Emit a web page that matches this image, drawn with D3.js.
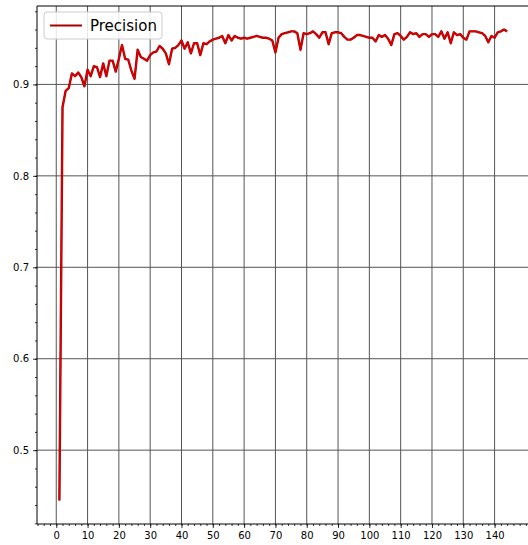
<!DOCTYPE html>
<html>
<head>
<meta charset="utf-8">
<script src="https://cdn.jsdelivr.net/npm/d3@7"></script>
<style>
  body { margin: 0; background: #fff; }
  svg { display: block; font-family: "DejaVu Sans", sans-serif; }
</style>
</head>
<body>
<svg id="chart" width="528" height="545"></svg>
<script>
// epoch numbers and precision values
var epochs = d3.range(1, 145);
var precision = [
  0.445, 0.875, 0.893, 0.896, 0.912, 0.909, 0.913, 0.908, 0.898, 0.916,
  0.909, 0.920, 0.919, 0.908, 0.923, 0.909, 0.926, 0.926, 0.914, 0.928,
  0.943, 0.928, 0.927, 0.915, 0.906, 0.938, 0.930, 0.928, 0.926, 0.932,
  0.935, 0.936, 0.942, 0.939, 0.934, 0.922, 0.939, 0.940, 0.943, 0.948,
  0.939, 0.946, 0.934, 0.945, 0.945, 0.932, 0.945, 0.944, 0.947, 0.949,
  0.950, 0.951, 0.953, 0.945, 0.954, 0.948, 0.953, 0.951, 0.950, 0.951,
  0.950, 0.951, 0.952, 0.953, 0.952, 0.951, 0.951, 0.950, 0.948, 0.935,
  0.951, 0.955, 0.956, 0.957, 0.958, 0.958, 0.956, 0.938, 0.956, 0.955,
  0.956, 0.958, 0.955, 0.951, 0.957, 0.957, 0.944, 0.956, 0.957, 0.957,
  0.956, 0.952, 0.949, 0.949, 0.951, 0.954, 0.954, 0.953, 0.952, 0.951,
  0.951, 0.947, 0.954, 0.952, 0.954, 0.950, 0.943, 0.955, 0.956, 0.953,
  0.949, 0.952, 0.957, 0.955, 0.956, 0.952, 0.955, 0.955, 0.952, 0.955,
  0.955, 0.952, 0.958, 0.950, 0.957, 0.945, 0.957, 0.954, 0.955, 0.951,
  0.949, 0.958, 0.958, 0.958, 0.957, 0.956, 0.953, 0.946, 0.953, 0.951,
  0.957, 0.958, 0.960, 0.958
];
var xTicks = d3.range(0, 141, 10);
var yTicks = [0.5, 0.6, 0.7, 0.8, 0.9];
var seriesName = "Precision";

var svg = d3.select("#chart");
var plotLeft = 37, plotTop = 6, plotRight = 529.5, plotBottom = 524;

// matplotlib style 5% margins
var xPad = (d3.max(epochs) - d3.min(epochs)) * 0.05;
var yPad = (d3.max(precision) - d3.min(precision)) * 0.05;
var x = d3.scaleLinear()
    .domain([d3.min(epochs) - xPad, d3.max(epochs) + xPad])
    .range([plotLeft, plotRight]);
var y = d3.scaleLinear()
    .domain([d3.min(precision) - yPad, d3.max(precision) + yPad])
    .range([plotBottom, plotTop]);

// grid
var grid = svg.append("g").attr("stroke", "#555").attr("stroke-width", 1);
grid.selectAll("line.gx").data(xTicks).enter().append("line")
    .attr("x1", d => x(d)).attr("x2", d => x(d))
    .attr("y1", plotTop).attr("y2", plotBottom);
grid.selectAll("line.gy").data(yTicks).enter().append("line")
    .attr("x1", plotLeft).attr("x2", plotRight)
    .attr("y1", d => y(d)).attr("y2", d => y(d));

// axes
var xMinor = d3.range(-6, 152, 2);
var yMinor = d3.range(0.42, 0.986, 0.02);

var xAxis = svg.append("g").attr("transform", "translate(0," + plotBottom + ")");
xAxis.call(d3.axisBottom(x).tickValues(xMinor).tickSize(2).tickFormat(""));
xAxis.append("g").call(d3.axisBottom(x).tickValues(xTicks).tickSize(4).tickPadding(4).tickFormat(d3.format("d")));

var yAxis = svg.append("g").attr("transform", "translate(" + plotLeft + ",0)");
yAxis.call(d3.axisLeft(y).tickValues(yMinor).tickSize(2).tickFormat(""));
yAxis.append("g").call(d3.axisLeft(y).tickValues(yTicks).tickSize(4).tickPadding(4).tickFormat(d3.format(".1f")));

svg.selectAll(".domain").remove();
svg.selectAll(".tick line").attr("stroke", "#000").attr("stroke-width", 0.8);
svg.selectAll(".tick text").attr("font-size", 10).attr("fill", "#000")
    .attr("font-family", "DejaVu Sans, sans-serif");

// spines
svg.append("line").attr("x1", plotLeft).attr("x2", plotLeft).attr("y1", plotTop).attr("y2", plotBottom)
    .attr("stroke", "#000").attr("stroke-width", 1);
svg.append("line").attr("x1", plotLeft).attr("x2", plotRight).attr("y1", plotBottom).attr("y2", plotBottom)
    .attr("stroke", "#000").attr("stroke-width", 1);
svg.append("line").attr("x1", plotLeft).attr("x2", plotRight).attr("y1", plotTop).attr("y2", plotTop)
    .attr("stroke", "#000").attr("stroke-width", 1);

// series
var line = d3.line().x((d, i) => x(epochs[i])).y(d => y(d));
svg.append("path").datum(precision)
    .attr("d", line)
    .attr("fill", "none")
    .attr("stroke", "#a80000")
    .attr("stroke-width", 2.4)
    .attr("stroke-linejoin", "round");
svg.append("path").datum(precision)
    .attr("d", line)
    .attr("fill", "none")
    .attr("stroke", "#e00000")
    .attr("stroke-width", 1.2)
    .attr("stroke-linejoin", "round");

// legend
var legend = svg.append("g").attr("transform", "translate(44,12)");
legend.append("rect").attr("width", 118).attr("height", 27).attr("rx", 3)
    .attr("fill", "#fff").attr("fill-opacity", 0.85)
    .attr("stroke", "#ccc").attr("stroke-width", 1);
legend.append("line").attr("x1", 6).attr("x2", 38).attr("y1", 13.5).attr("y2", 13.5)
    .attr("stroke", "#a80000").attr("stroke-width", 2);
legend.append("text").attr("x", 46).attr("y", 19).attr("font-size", 15)
    .attr("fill", "#000").text(seriesName);
</script>
</body>
</html>
